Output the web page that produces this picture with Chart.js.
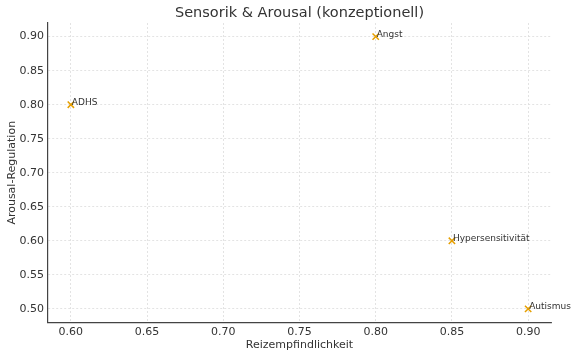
<!DOCTYPE html>
<html>
<head>
<meta charset="utf-8">
<script src="https://cdn.jsdelivr.net/npm/chart.js@4/dist/chart.umd.min.js"></script>
<style>
html,body{margin:0;padding:0;background:#fff;}
#wrap{width:576px;height:357px;}
</style>
</head>
<body>
<div id="wrap"><canvas id="c" width="576" height="357"></canvas></div>
<script>
const labels = ["ADHS", "Angst", "Hypersensitivität", "Autismus"];
const reizempfindlichkeit = [0.60, 0.80, 0.85, 0.90];
const arousalRegulation = [0.80, 0.90, 0.60, 0.50];
const xTicks = [0.60, 0.65, 0.70, 0.75, 0.80, 0.85, 0.90];
const yTicks = [0.50, 0.55, 0.60, 0.65, 0.70, 0.75, 0.80, 0.85, 0.90];
const titleText = "Sensorik & Arousal (konzeptionell)";
const xTitle = "Reizempfindlichkeit";
const yTitle = "Arousal-Regulation";

const FONT = "'DejaVu Sans', sans-serif";
const TXT = '#333333';

const points = reizempfindlichkeit.map((x, i) => ({x: x, y: arousalRegulation[i]}));

const overlay = {
  id: 'overlay',
  afterDatasetsDraw(chart) {
    const ctx = chart.ctx;
    const xs = chart.scales.x, ys = chart.scales.y;
    const ca = chart.chartArea;
    ctx.save();
    ctx.font = '9px ' + FONT;
    ctx.fillStyle = TXT;
    ctx.textAlign = 'left';
    ctx.textBaseline = 'alphabetic';
    points.forEach((p, i) => {
      ctx.fillText(labels[i], xs.getPixelForValue(p.x) + 1, ys.getPixelForValue(p.y) + 0.5);
    });
    ctx.font = '14.5px ' + FONT;
    ctx.textAlign = 'center';
    ctx.textBaseline = 'middle';
    ctx.fillText(titleText, (ca.left + ca.right) / 2, 13);
    ctx.font = '11px ' + FONT;
    ctx.fillText(xTitle, (ca.left + ca.right) / 2, 345);
    ctx.translate(12, (ca.top + ca.bottom) / 2);
    ctx.rotate(-Math.PI / 2);
    ctx.fillText(yTitle, 0, 0);
    ctx.restore();
  }
};

new Chart(document.getElementById('c'), {
  type: 'scatter',
  data: {
    datasets: [{
      data: points,
      pointStyle: 'crossRot',
      pointRadius: 4.5,
      pointHoverRadius: 4.5,
      borderColor: '#E69F00',
      backgroundColor: '#E69F00',
      pointBorderWidth: 1.5
    }]
  },
  options: {
    responsive: false,
    animation: false,
    devicePixelRatio: 1,
    layout: {padding: {left: 0, right: 25, top: 23, bottom: 0}},
    plugins: {legend: {display: false}, tooltip: {enabled: false}, title: {display: false}},
    scales: {
      x: {
        type: 'linear',
        min: 0.585, max: 0.915,
        afterBuildTicks(s) { s.ticks = xTicks.map(v => ({value: v})); },
        afterFit(s) { s.height = 34.5; },
        ticks: {
          font: {family: FONT, size: 11}, color: TXT, padding: 3,
          callback: v => v.toFixed(2)
        },
        grid: {color: '#dcdcdc', lineWidth: 0.8, drawTicks: false},
        border: {display: true, color: '#444444', width: 1.2, dash: [2, 2]}
      },
      y: {
        type: 'linear',
        min: 0.48, max: 0.92,
        afterBuildTicks(s) { s.ticks = yTicks.map(v => ({value: v})); },
        afterFit(s) { s.width = 48; },
        ticks: {
          font: {family: FONT, size: 11}, color: TXT, padding: 4,
          callback: v => v.toFixed(2)
        },
        grid: {color: '#dcdcdc', lineWidth: 0.8, drawTicks: false},
        border: {display: true, color: '#444444', width: 1.2, dash: [2, 2]}
      }
    }
  },
  plugins: [overlay]
});
</script>
</body>
</html>
